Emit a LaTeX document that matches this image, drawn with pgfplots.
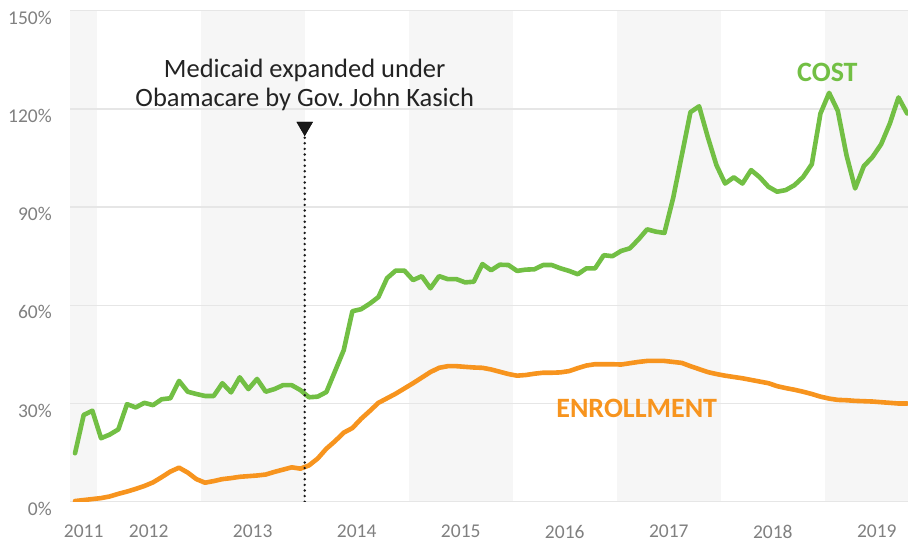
\documentclass[border=0pt]{standalone}
\usepackage{pgfplots}
\pgfplotsset{compat=1.18}
\usepackage{pgfplotstable}
\usepackage{fontspec}
\setmainfont{Carlito}
\frenchspacing
\definecolor{costgreen}{RGB}{114,191,68}
\definecolor{enrorange}{RGB}{247,148,30}
\definecolor{band}{RGB}{246,246,246}
\definecolor{gridc}{RGB}{230,230,230}
\definecolor{ticklab}{RGB}{128,128,128}
\definecolor{annot}{RGB}{35,35,35}

\pgfplotstableread{
i cost enr
0 14.8 0.2
1 26.5 0.5
2 27.8 0.8
3 19.4 1.1
4 20.5 1.6
5 22.1 2.4
6 29.8 3.1
7 28.8 3.9
8 30.2 4.8
9 29.5 5.9
10 31.3 7.5
11 31.6 9.2
12 36.9 10.4
13 33.6 8.9
14 32.9 6.9
15 32.3 5.8
16 32.3 6.3
17 36.2 6.9
18 33.4 7.2
19 38.0 7.6
20 34.4 7.8
21 37.5 8.0
22 33.6 8.3
23 34.4 9.1
24 35.6 9.8
25 35.6 10.5
26 34.1 10.1
27 31.9 11.1
28 32.1 13.2
29 33.5 16.2
30 39.9 18.5
31 46.3 21.1
32 58.2 22.5
33 58.8 25.3
34 60.5 27.7
35 62.5 30.2
36 68.3 31.6
37 70.6 33.0
38 70.6 34.6
39 67.7 36.2
40 68.9 37.9
41 65.2 39.6
42 68.9 40.9
43 68.0 41.4
44 68.0 41.4
45 67.0 41.2
46 67.2 41.0
47 72.6 40.9
48 70.7 40.4
49 72.4 39.7
50 72.3 39.0
51 70.5 38.5
52 70.9 38.7
53 71.0 39.1
54 72.3 39.4
55 72.3 39.4
56 71.3 39.5
57 70.5 39.9
58 69.5 40.8
59 71.3 41.6
60 71.3 42.0
61 75.3 42.0
62 75.0 42.0
63 76.6 41.9
64 77.4 42.3
65 80.1 42.7
66 83.2 43.0
67 82.5 43.0
68 82.1 43.0
69 92.7 42.7
70 105.8 42.4
71 119.0 41.4
72 120.8 40.5
73 111.4 39.6
74 102.8 39.0
75 97.2 38.5
76 99.1 38.1
77 97.2 37.7
78 101.3 37.2
79 99.1 36.7
80 96.2 36.2
81 94.7 35.3
82 95.2 34.7
83 96.7 34.2
84 99.2 33.6
85 103.1 32.9
86 118.6 32.1
87 124.9 31.5
88 119.4 31.1
89 105.9 31.0
90 95.7 30.8
91 102.5 30.7
92 105.3 30.6
93 109.2 30.4
94 115.5 30.2
95 123.5 30.0
96 118.6 30.0
}\data

\begin{document}
\begin{tikzpicture}
\begin{axis}[
  set layers,
  scale only axis, width=838bp, height=491bp,
  xmin=-0.58, xmax=96.1, ymin=0, ymax=150,
  axis line style={draw=none},
  major tick length=0pt,
  ytick={0,30,60,90,120,150},
  yticklabels={0\%,30\%,60\%,90\%,120\%,150\%},
  xtick={1,8.5,20.5,32.5,44.5,56.5,68.5,80.5,92.5},
  xticklabels={2011,2012,2013,2014,2015,2016,2017,2018,2019},
  ymajorgrids,
  grid style={gridc, line width=1.5bp},
  tick label style={font=\fontsize{19.5bp}{23bp}\selectfont, text=ticklab},
  yticklabel style={anchor=north east, inner sep=0pt, xshift=-18bp},
  xticklabel style={anchor=north, inner sep=0pt, yshift=-23bp},
]
\begin{pgfonlayer}{axis background}
  \fill[band] (axis cs:-0.58,0) rectangle (axis cs:2.5,150);
  \fill[band] (axis cs:14.5,0) rectangle (axis cs:26.5,150);
  \fill[band] (axis cs:38.5,0) rectangle (axis cs:50.5,150);
  \fill[band] (axis cs:62.5,0) rectangle (axis cs:74.5,150);
  \fill[band] (axis cs:86.5,0) rectangle (axis cs:96.1,150);
\end{pgfonlayer}
\addplot[enrorange, line width=4.6bp, line join=round, line cap=round] table[x=i, y=enr] {\data};
\addplot[costgreen, line width=4.6bp, line join=round, line cap=round] table[x=i, y=cost] {\data};
\addplot[black!90, line width=2.7bp, line cap=round, dash pattern=on 0pt off 5.6bp] coordinates {(26.5,0) (26.5,111.9)};
\addplot[only marks, mark=triangle*, mark size=9.2bp, mark options={rotate=180, fill=black!90, draw=none}] coordinates {(26.5,114.6)};
\node[anchor=base, text=annot, font=\fontsize{26.5bp}{30bp}\selectfont, inner sep=0pt] at (axis cs:26.5,129.7) {Medicaid expanded under};
\node[anchor=base, text=annot, font=\fontsize{26.5bp}{30bp}\selectfont, inner sep=0pt] at (axis cs:26.5,120.8) {Obamacare by Gov. John Kasich};
\node[text=costgreen, font=\bfseries\fontsize{28bp}{30bp}\selectfont, inner sep=0pt] at (axis cs:86.8,131.2) {COST};
\node[text=enrorange, font=\bfseries\fontsize{28bp}{30bp}\selectfont, inner sep=0pt] at (axis cs:64.8,28.6) {ENROLLMENT};
\end{axis}
\pgfresetboundingbox
\path[use as bounding box] (-70bp,-41.3bp) rectangle (838bp,501.7bp);
\end{tikzpicture}
\end{document}
